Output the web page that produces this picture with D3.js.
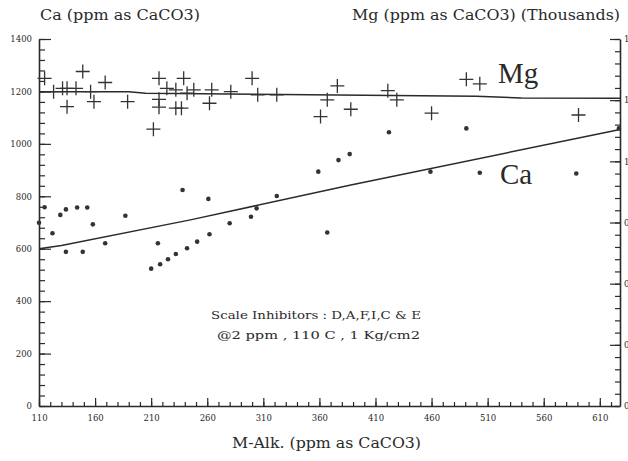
<!DOCTYPE html>
<html>
<head>
<meta charset="utf-8">
<script src="https://cdn.jsdelivr.net/npm/d3@7"></script>
<style>
  body { margin: 0; background: #fff; }
  text { fill: #2a2a2a; }
</style>
</head>
<body>
<svg id="chart" width="628" height="461"></svg>
<script>
// Ca points: M-Alk vs Ca (ppm as CaCO3)
const caAlk = [115, 110, 122, 129, 134, 144, 153, 158, 134, 149, 169, 187, 238, 216, 210, 218, 225, 232, 242, 251, 261, 262, 280, 299, 304, 322, 367, 359, 377, 387, 422, 459, 491, 503, 589, 627];
const caVal = [758, 699, 659, 729, 750, 757, 757, 693, 588, 588, 621, 726, 824, 621, 524, 541, 560, 580, 602, 627, 790, 655, 697, 722, 754, 801, 662, 894, 938, 961, 1044, 894, 1059, 890, 887, 1059];

// Mg points: M-Alk vs Mg (thousands)
const mgAlk = [115, 123, 131, 135, 143, 135, 149, 156, 159, 169, 189, 217, 212, 217, 217, 224, 232, 232, 237, 239, 242, 248, 264, 262, 281, 300, 305, 322, 361, 367, 376, 388, 421, 429, 460, 491, 503, 591];
const mgVal = [1.250, 1.199, 1.212, 1.212, 1.212, 1.142, 1.276, 1.199, 1.161, 1.234, 1.161, 1.250, 1.056, 1.170, 1.140, 1.212, 1.206, 1.136, 1.136, 1.250, 1.193, 1.206, 1.206, 1.155, 1.199, 1.250, 1.187, 1.187, 1.104, 1.168, 1.221, 1.132, 1.203, 1.168, 1.117, 1.246, 1.229, 1.110];

// trend lines as drawn on the chart
const caFitAlk = [110, 130, 245, 388, 628];
const caFitVal = [600, 612, 710, 843, 1055];
const mgFitAlk = [110, 190, 205, 500, 540, 628];
const mgFitVal = [1.199, 1.199, 1.193, 1.182, 1.175, 1.174];

// axis ticks
const xTicks = [110, 160, 210, 260, 310, 360, 410, 460, 510, 560, 610];
const yTicks = [0, 200, 400, 600, 800, 1000, 1200, 1400];
const yRTicks = [0, 0.25, 0.5, 0.75, 1, 1.25, 1.5];

const svg = d3.select("#chart");
const mLeft = 39, mRight = 620, mTop = 39, mBottom = 406;

const x = d3.scaleLinear().domain([110, 628]).range([mLeft, mRight]);
const y = d3.scaleLinear().domain([0, 1400]).range([mBottom, mTop]);
const yMg = d3.scaleLinear().domain([0, 1.4]).range([mBottom, mTop]);
const yR = d3.scaleLinear().domain([0, 1.5]).range([mBottom, mTop]);

const ink = "#2a2a2a";
const serif = "'DejaVu Serif', serif";

// minor ticks
svg.append("g")
  .attr("transform", `translate(${mLeft},0)`)
  .call(d3.axisLeft(y).tickValues(d3.range(0, 1401, 40)).tickSize(-6).tickSizeOuter(0).tickFormat(""))
  .call(g => g.select(".domain").remove());
svg.append("g")
  .attr("transform", `translate(0,${mBottom})`)
  .call(d3.axisBottom(x).tickValues(d3.range(110, 621, 10)).tickSize(-4).tickSizeOuter(0).tickFormat(""))
  .call(g => g.select(".domain").remove());
svg.append("g")
  .attr("transform", `translate(${mRight},0)`)
  .call(d3.axisRight(yR).tickValues(d3.range(0, 1.501, 0.05)).tickSize(-5).tickSizeOuter(0).tickFormat(""))
  .call(g => g.select(".domain").remove());

// major axes
const yAxis = svg.append("g")
  .attr("transform", `translate(${mLeft},0)`)
  .call(d3.axisLeft(y).tickValues(yTicks).tickFormat(d3.format("d")).tickSize(-12).tickSizeOuter(0).tickPadding(7));
const xAxis = svg.append("g")
  .attr("transform", `translate(0,${mBottom})`)
  .call(d3.axisBottom(x).tickValues(xTicks).tickFormat(d3.format("d")).tickSize(-8).tickSizeOuter(0).tickPadding(9));
const rAxis = svg.append("g")
  .attr("transform", `translate(${mRight},0)`)
  .call(d3.axisRight(yR).tickValues(yRTicks).tickSize(-10).tickSizeOuter(0).tickPadding(4));

svg.selectAll(".tick line").attr("stroke", ink).attr("stroke-width", 1.2);
[yAxis, xAxis, rAxis].forEach(g => {
  g.select(".domain").attr("stroke", ink).attr("stroke-width", 1.6);
  g.selectAll("text").style("font-family", serif).style("font-size", "8.5px").attr("fill", ink);
});

// trend lines
const line = d3.line();
svg.append("path")
  .attr("d", line(caFitAlk.map((d, i) => [x(d), y(caFitVal[i])])))
  .attr("fill", "none").attr("stroke", ink).attr("stroke-width", 1.5);
svg.append("path")
  .attr("d", line(mgFitAlk.map((d, i) => [x(d), yMg(mgFitVal[i])])))
  .attr("fill", "none").attr("stroke", ink).attr("stroke-width", 1.5);

// Ca dots
svg.append("g")
  .selectAll("circle")
  .data(caAlk)
  .join("circle")
  .attr("cx", d => x(d))
  .attr("cy", (d, i) => y(caVal[i]))
  .attr("r", 2.3)
  .attr("fill", "#333");

// Mg crosses
svg.append("g")
  .selectAll("path")
  .data(mgAlk)
  .join("path")
  .attr("transform", (d, i) => `translate(${x(d)},${yMg(mgVal[i])})`)
  .attr("d", "M-7,0H7M0,-7V7")
  .attr("stroke", "#333")
  .attr("stroke-width", 1.3)
  .attr("fill", "none");

// series labels
svg.append("text").attr("x", 498).attr("y", 83)
  .style("font-family", "'Liberation Serif', serif").style("font-size", "29px")
  .text("Mg");
svg.append("text").attr("x", 500).attr("y", 184)
  .style("font-family", "'Liberation Serif', serif").style("font-size", "29px")
  .text("Ca");

// axis titles
svg.append("text").attr("x", 40).attr("y", 20)
  .attr("textLength", 160).attr("lengthAdjust", "spacingAndGlyphs")
  .style("font-family", serif).style("font-size", "14px")
  .text("Ca (ppm as CaCO3)");
svg.append("text").attr("x", 352).attr("y", 20)
  .attr("textLength", 268).attr("lengthAdjust", "spacingAndGlyphs")
  .style("font-family", serif).style("font-size", "14px")
  .text("Mg (ppm as CaCO3) (Thousands)");
svg.append("text").attr("x", 232).attr("y", 448)
  .attr("textLength", 189).attr("lengthAdjust", "spacingAndGlyphs")
  .style("font-family", serif).style("font-size", "14px")
  .text("M-Alk. (ppm as CaCO3)");

// annotation
svg.append("text").attr("x", 211).attr("y", 319)
  .attr("textLength", 210).attr("lengthAdjust", "spacingAndGlyphs")
  .style("font-family", serif).style("font-size", "11px")
  .text("Scale Inhibitors : D,A,F,I,C & E");
svg.append("text").attr("x", 217).attr("y", 339)
  .attr("textLength", 203).attr("lengthAdjust", "spacingAndGlyphs")
  .style("font-family", serif).style("font-size", "11px")
  .text("@2 ppm , 110 C , 1 Kg/cm2");
</script>
</body>
</html>
